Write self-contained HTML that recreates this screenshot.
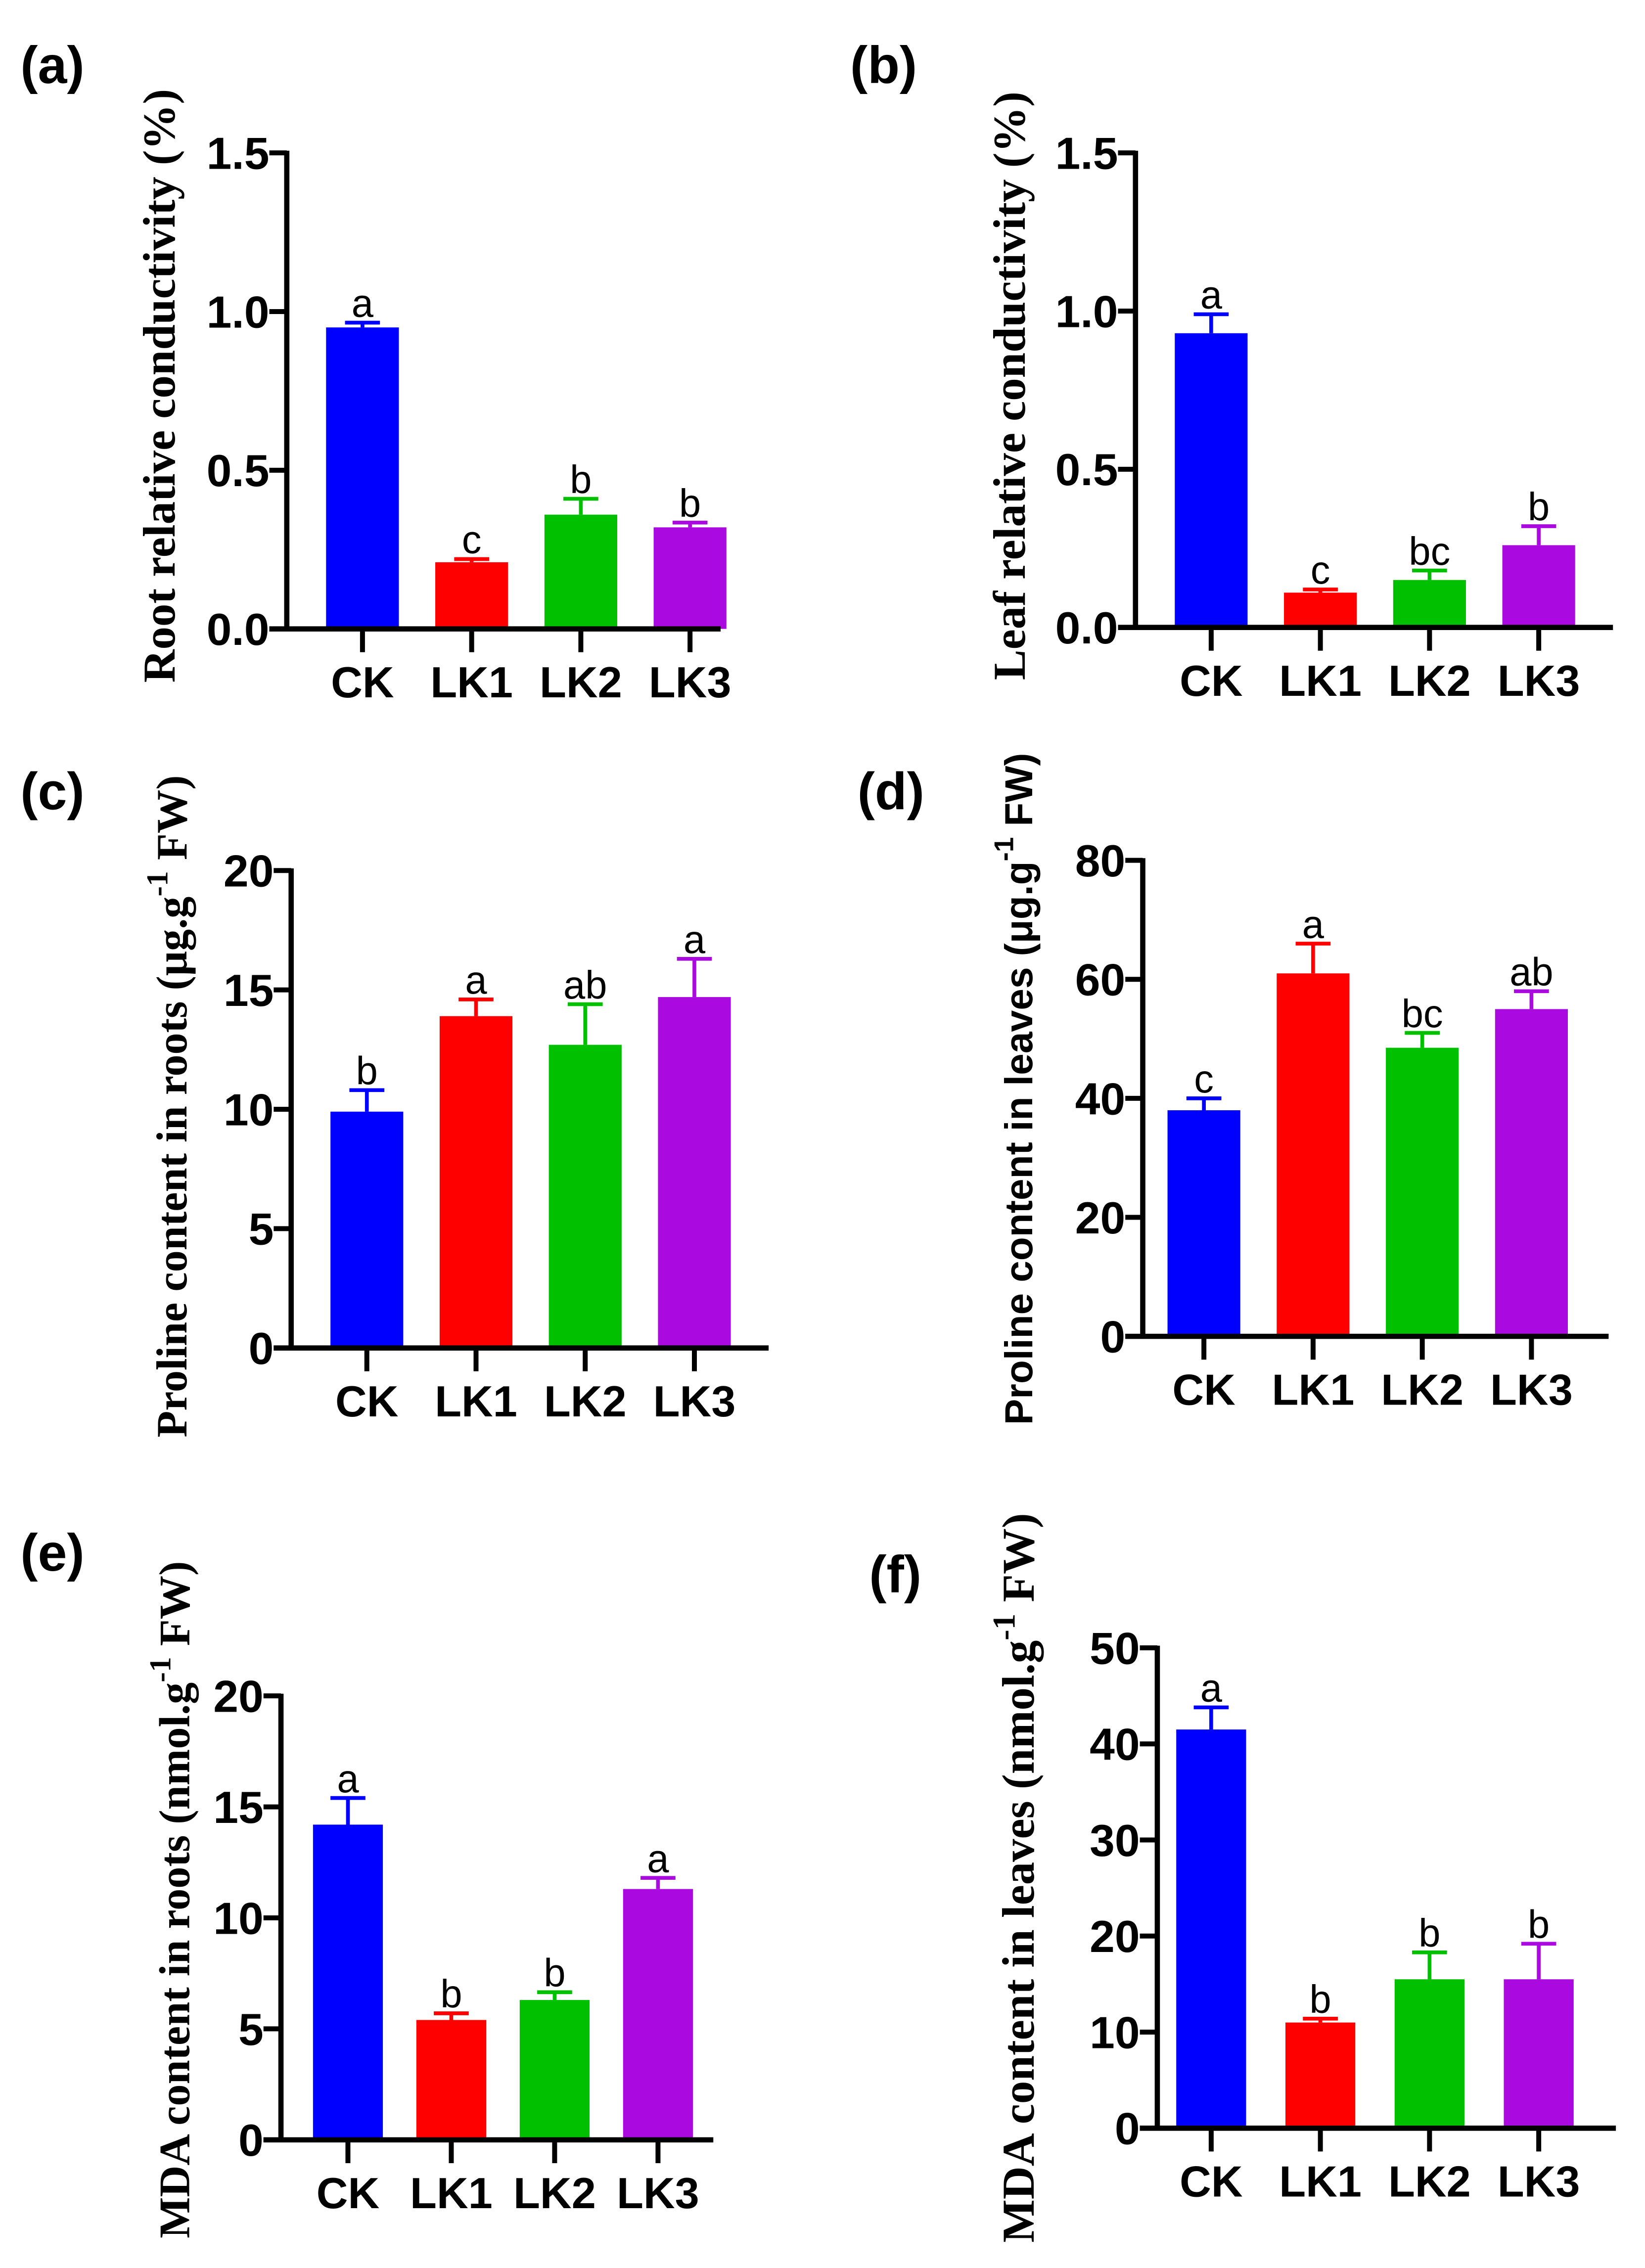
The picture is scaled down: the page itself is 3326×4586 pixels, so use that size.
<!DOCTYPE html>
<html><head><meta charset="utf-8">
<style>
html,body{margin:0;padding:0;background:#fff;}
svg{display:block;}
.tick{font-family:"Liberation Sans",sans-serif;font-weight:bold;font-size:31px;}
.cat{font-family:"Liberation Sans",sans-serif;font-weight:bold;font-size:30px;}
.sig{font-family:"Liberation Sans",sans-serif;font-size:27px;}
.plabel{font-family:"Liberation Sans",sans-serif;font-weight:bold;font-size:36px;}
.ylab-serif{font-family:"Liberation Serif",serif;font-weight:bold;font-size:31.5px;}
.ylab-serif2{font-family:"Liberation Serif",serif;font-weight:bold;font-size:30px;}
.ylab-sans{font-family:"Liberation Sans",sans-serif;font-weight:bold;font-size:26.7px;}
</style></head>
<body>
<svg id="fig" width="3326" height="4586" viewBox="0 0 1130 1558" xmlns="http://www.w3.org/2000/svg"></svg>
<script>
const categories = ["CK","LK1","LK2","LK3"];
const colors = ["#0000ff","#ff0000","#00c000","#aa0ae0"];
const aMeans = [0.95,0.21,0.36,0.32];
const aErrs = [0.015,0.01,0.05,0.015];
const aLetters = ["a","c","b","b"];
const aTicks = ["0.0","0.5","1.0","1.5"];
const bMeans = [0.93,0.11,0.15,0.26];
const bErrs = [0.06,0.01,0.03,0.06];
const bLetters = ["a","c","bc","b"];
const bTicks = ["0.0","0.5","1.0","1.5"];
const cMeans = [9.9,13.9,12.7,14.7];
const cErrs = [0.9,0.7,1.7,1.6];
const cLetters = ["b","a","ab","a"];
const cTicks = ["0","5","10","15","20"];
const dMeans = [38,61,48.5,55];
const dErrs = [2,5,2.5,3];
const dLetters = ["c","a","bc","ab"];
const dTicks = ["0","20","40","60","80"];
const eMeans = [14.2,5.4,6.3,11.3];
const eErrs = [1.2,0.3,0.35,0.5];
const eLetters = ["a","b","b","a"];
const eTicks = ["0","5","10","15","20"];
const fMeans = [41.5,11,15.5,15.5];
const fErrs = [2.3,0.4,2.8,3.7];
const fLetters = ["a","b","b","b"];
const fTicks = ["0","10","20","30","40","50"];

const NS="http://www.w3.org/2000/svg";
const svg=document.getElementById('fig');
function mk(tag,attrs,parent,text){
  const e=document.createElementNS(NS,tag);
  for(const k in attrs)e.setAttribute(k,attrs[k]);
  if(text!==undefined)e.textContent=text;
  (parent||svg).appendChild(e);return e;
}
function panel(p){
  const g=mk('g',{});
  
  
  const ymax=parseFloat(p.ticks[p.ticks.length-1]);
  const y=v=>p.y0-(v/ymax)*(p.y0-p.ytop);
  const x=i=>p.x0+p.first+i*p.step;
  p.means.forEach((m,i)=>{
    const r=mk('rect',{x:x(i)-p.bw/2,y:y(m),width:p.bw,height:p.y0-y(m),fill:colors[i]},g);
    
    
    const top=y(m+p.errs[i]);
    const eb=mk('path',{d:`M${x(i)},${y(m)} V${top} M${x(i)-12},${top} H${x(i)+12}`,stroke:colors[i],'stroke-width':2.6,fill:'none'},g);
    
    
    const t=mk('text',{x:x(i),y:top-4,'text-anchor':'middle',class:'sig'},g,p.letters[i]);
    
    
    const tk=mk('line',{x1:x(i),x2:x(i),y1:p.y0,y2:p.y0+16,stroke:'#000','stroke-width':3.4},g);
    
    
    const c=mk('text',{x:x(i),y:p.y0+47,'text-anchor':'middle',class:'cat'},g,categories[i]);
    
    
  });
  const ya=mk('line',{x1:p.x0,x2:p.x0,y1:p.ytop-1.5,y2:p.y0+1.5,stroke:'#000','stroke-width':3.6},g);
  
  
  const xa=mk('line',{x1:p.x0-12,x2:p.xend,y1:p.y0,y2:p.y0,stroke:'#000','stroke-width':3.6},g);
  
  
  p.ticks.forEach(tv=>{
    const yy=y(parseFloat(tv));
    const l=mk('line',{x1:p.x0-12,x2:p.x0,y1:yy,y2:yy,stroke:'#000','stroke-width':3.4},g);
    
    
    const t=mk('text',{x:p.x0-12,y:yy+11,'text-anchor':'end',class:'tick'},g,tv);
    
    
  });
  const pl=mk('text',{x:p.lx,y:p.ly,class:'plabel'},g,p.label);
  
  
  const yl=mk('text',{x:0,y:0,'text-anchor':'middle',class:p.ycls,transform:`translate(${p.ylx},${p.yly}) rotate(-90)`},g);
  
  
  mk('tspan',{},yl,p.ytitle[0]);
  if(p.ytitle.length>1){
    mk('tspan',{dy:-13,'font-size':'0.7em'},yl,'-1');
    mk('tspan',{dy:13},yl,p.ytitle[1]);
  }
}
panel({name:'panel-a',label:'(a)',lx:14,ly:57,x0:197,ytop:105,y0:432,xend:495,first:52,step:75,bw:50,
  means:aMeans,errs:aErrs,letters:aLetters,ticks:aTicks,ycls:'ylab-serif',ylx:120,yly:265,
  ytitle:['Root relative conductivity  (%)']});
panel({name:'panel-b',label:'(b)',lx:584,ly:57,x0:780,ytop:105,y0:431,xend:1108,first:52,step:75,bw:50,
  means:bMeans,errs:bErrs,letters:bLetters,ticks:bTicks,ycls:'ylab-serif',ylx:704,yly:265,
  ytitle:['Leaf relative conductivity  (%)']});
panel({name:'panel-c',label:'(c)',lx:14,ly:556,x0:200,ytop:598,y0:926,xend:528,first:52,step:75,bw:50,
  means:cMeans,errs:cErrs,letters:cLetters,ticks:cTicks,ycls:'ylab-serif2',ylx:128,yly:760,
  ytitle:['Proline content in roots (μg.g',' FW)']});
panel({name:'panel-d',label:'(d)',lx:589,ly:556,x0:785,ytop:591,y0:918,xend:1105,first:42,step:75,bw:50,
  means:dMeans,errs:dErrs,letters:dLetters,ticks:dTicks,ycls:'ylab-sans',ylx:709,yly:748,
  ytitle:['Proline content in leaves (μg.g',' FW)']});
panel({name:'panel-e',label:'(e)',lx:14,ly:1079,x0:193,ytop:1165,y0:1470,xend:490,first:46,step:71,bw:48,
  means:eMeans,errs:eErrs,letters:eLetters,ticks:eTicks,ycls:'ylab-serif2',ylx:130,yly:1305,
  ytitle:['MDA content in roots (nmol.g',' FW)']});
panel({name:'panel-f',label:'(f)',lx:597,ly:1094,x0:795,ytop:1132,y0:1462,xend:1110,first:37,step:75,bw:48,
  means:fMeans,errs:fErrs,letters:fLetters,ticks:fTicks,ycls:'ylab-serif',ylx:710,yly:1290,
  ytitle:['MDA content in leaves (nmol.g',' FW)']});
</script>
</body></html>
